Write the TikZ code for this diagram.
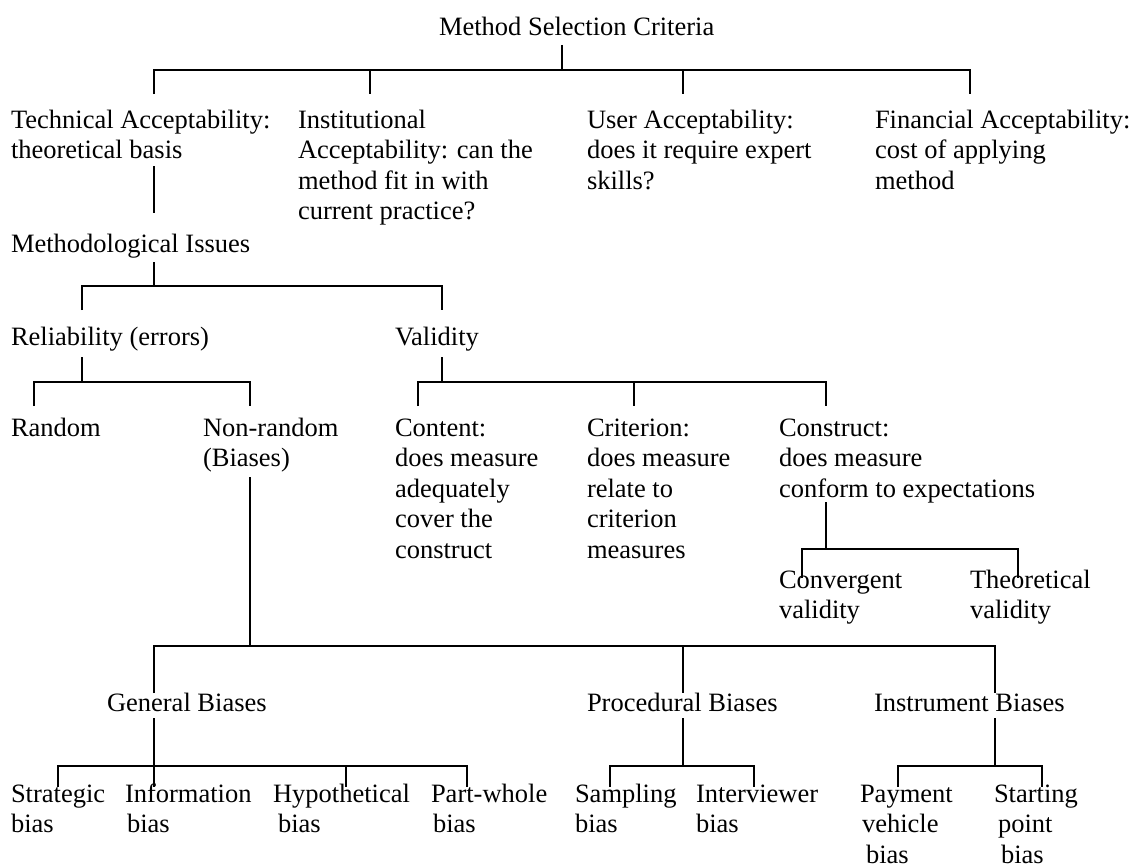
\documentclass[tikz,border=0pt]{standalone}
\usepackage{fontspec}
\setmainfont{Liberation Serif}
\newcommand\ml[1]{\vtop{\baselineskip=30.6pt\lineskiplimit=0pt\let\\\cr\halign{##\hfil\cr#1\crcr}}}
\begin{document}
\begin{tikzpicture}[x=1pt,y=-1pt,line width=1.3pt,
  lbl/.style={anchor=base west,inner sep=0pt,outer sep=0pt,font=\fontsize{26.5}{30.6}\selectfont},
  conn/.style={draw=black,line width=1.3pt}]
\useasboundingbox (0,0) rectangle (1134,867);
% labels
\node[lbl] (msc) at (439,36) {Method Selection Criteria};
\node[lbl] (tech) at (11,128) {\ml{Technical Acceptability:\\theoretical basis}};
\node[lbl] (inst) at (298,128) {\ml{Institutional\\Acceptability: can the\\method fit in with\\current practice?}};
\node[lbl] (user) at (587,128) {\ml{User Acceptability:\\does it require expert\\skills?}};
\node[lbl] (fin) at (875,128) {\ml{Financial Acceptability:\\cost of applying\\method}};
\node[lbl] (meth) at (11,252) {Methodological Issues};
\node[lbl] (rel) at (11,345) {Reliability (errors)};
\node[lbl] (val) at (395,345) {Validity};
\node[lbl] (rand) at (11,436) {Random};
\node[lbl] (nonr) at (203,436) {\ml{Non-random\\(Biases)}};
\node[lbl] (cont) at (395,436) {\ml{Content:\\does measure\\adequately\\cover the\\construct}};
\node[lbl] (crit) at (587,436) {\ml{Criterion:\\does measure\\relate to\\criterion\\measures}};
\node[lbl] (cons) at (779,436) {\ml{Construct:\\does measure\\conform to expectations}};
\node[lbl] (conv) at (779,588) {\ml{Convergent\\validity}};
\node[lbl] (theo) at (970,588) {\ml{Theoretical\\validity}};
\node[lbl] (gen) at (107,711) {General Biases};
\node[lbl] (proc) at (587,711) {Procedural Biases};
\node[lbl] (instr) at (874,711) {Instrument Biases};
\node[lbl] (strat) at (11,802) {\ml{Strategic\\bias}};
\node[lbl] (info) at (125,802) {\ml{Information\\\hspace*{2pt}bias}};
\node[lbl] (hyp) at (273,802) {\ml{Hypothetical\\\hspace*{5pt}bias}};
\node[lbl] (part) at (431,802) {\ml{Part-whole\\\hspace*{2pt}bias}};
\node[lbl] (samp) at (575,802) {\ml{Sampling\\bias}};
\node[lbl] (intv) at (696,802) {\ml{Interviewer\\bias}};
\node[lbl] (pay) at (860,802) {\ml{Payment\\\hspace*{2pt}vehicle\\\hspace*{6pt}bias}};
\node[lbl] (start) at (994,802) {\ml{Starting\\\hspace*{4pt}point\\\hspace*{7pt}bias}};
% coordinates
\coordinate (m0) at (562,45);   \coordinate (m1) at (562,70);
\coordinate (t1a) at (154,70);  \coordinate (t1b) at (154,94);
\coordinate (t2a) at (370,70);  \coordinate (t2b) at (370,94);
\coordinate (t3a) at (683,70);  \coordinate (t3b) at (683,94);
\coordinate (t4a) at (970,70);  \coordinate (t4b) at (970,94);
\coordinate (tc0) at (154,166); \coordinate (tc1) at (154,213);
\coordinate (mi0) at (154,262); \coordinate (mi1) at (154,286);
\coordinate (r1a) at (82,286);  \coordinate (r1b) at (82,310);
\coordinate (v1a) at (442,286); \coordinate (v1b) at (442,310);
\coordinate (rl0) at (82,357);  \coordinate (rl1) at (82,382);
\coordinate (ra) at (34,382);   \coordinate (rb) at (34,406);
\coordinate (na) at (250,382);  \coordinate (nb) at (250,406);
\coordinate (vl0) at (442,357); \coordinate (vl1) at (442,382);
\coordinate (ca) at (418,382);  \coordinate (cb) at (418,406);
\coordinate (cra) at (634,382); \coordinate (crb) at (634,406);
\coordinate (coa) at (826,382); \coordinate (cob) at (826,406);
\coordinate (nr0) at (250,477); \coordinate (nr1) at (250,646);
\coordinate (ga) at (154,646);  \coordinate (gb) at (154,693);
\coordinate (pa) at (683,646);  \coordinate (pb) at (683,693);
\coordinate (ia) at (995,646);  \coordinate (ib) at (995,693);
\coordinate (cs0) at (826,502); \coordinate (cs1) at (826,549);
\coordinate (cva) at (802,549); \coordinate (cvb) at (802,578);
\coordinate (tha) at (1018,549);\coordinate (thb) at (1018,578);
\coordinate (g0) at (154,718);  \coordinate (g1) at (154,766);
\coordinate (sa) at (58,766);   \coordinate (sb) at (58,787);
\coordinate (ifb) at (154,787);
\coordinate (ha) at (346,766);  \coordinate (hb) at (346,787);
\coordinate (pwa) at (467,766); \coordinate (pwb) at (467,787);
\coordinate (p0) at (683,718);  \coordinate (p1) at (683,766);
\coordinate (sma) at (610,766); \coordinate (smb) at (610,787);
\coordinate (iva) at (754,766); \coordinate (ivb) at (754,787);
\coordinate (i0) at (995,718);  \coordinate (i1) at (995,766);
\coordinate (pya) at (898,766); \coordinate (pyb) at (898,787);
\coordinate (sta) at (1042,766);\coordinate (stb) at (1042,787);
% connectors
\draw[conn] (m0) -- (m1);
\draw[conn] (t1b) -- (t1a) -- (t4a) -- (t4b);
\draw[conn] (t2a) -- (t2b);
\draw[conn] (t3a) -- (t3b);
\draw[conn] (tc0) -- (tc1);
\draw[conn] (mi0) -- (mi1);
\draw[conn] (r1b) -- (r1a) -- (v1a) -- (v1b);
\draw[conn] (rl0) -- (rl1);
\draw[conn] (rb) -- (ra) -- (na) -- (nb);
\draw[conn] (vl0) -- (vl1);
\draw[conn] (cb) -- (ca) -- (coa) -- (cob);
\draw[conn] (cra) -- (crb);
\draw[conn] (nr0) -- (nr1);
\draw[conn] (gb) -- (ga) -- (ia) -- (ib);
\draw[conn] (pa) -- (pb);
\draw[conn] (cs0) -- (cs1);
\draw[conn] (cvb) -- (cva) -- (tha) -- (thb);
\draw[conn] (g0) -- (g1);
\draw[conn] (sb) -- (sa) -- (pwa) -- (pwb);
\draw[conn] (g1) -- (ifb);
\draw[conn] (ha) -- (hb);
\draw[conn] (p0) -- (p1);
\draw[conn] (smb) -- (sma) -- (iva) -- (ivb);
\draw[conn] (i0) -- (i1);
\draw[conn] (pyb) -- (pya) -- (sta) -- (stb);
\end{tikzpicture}
\end{document}
